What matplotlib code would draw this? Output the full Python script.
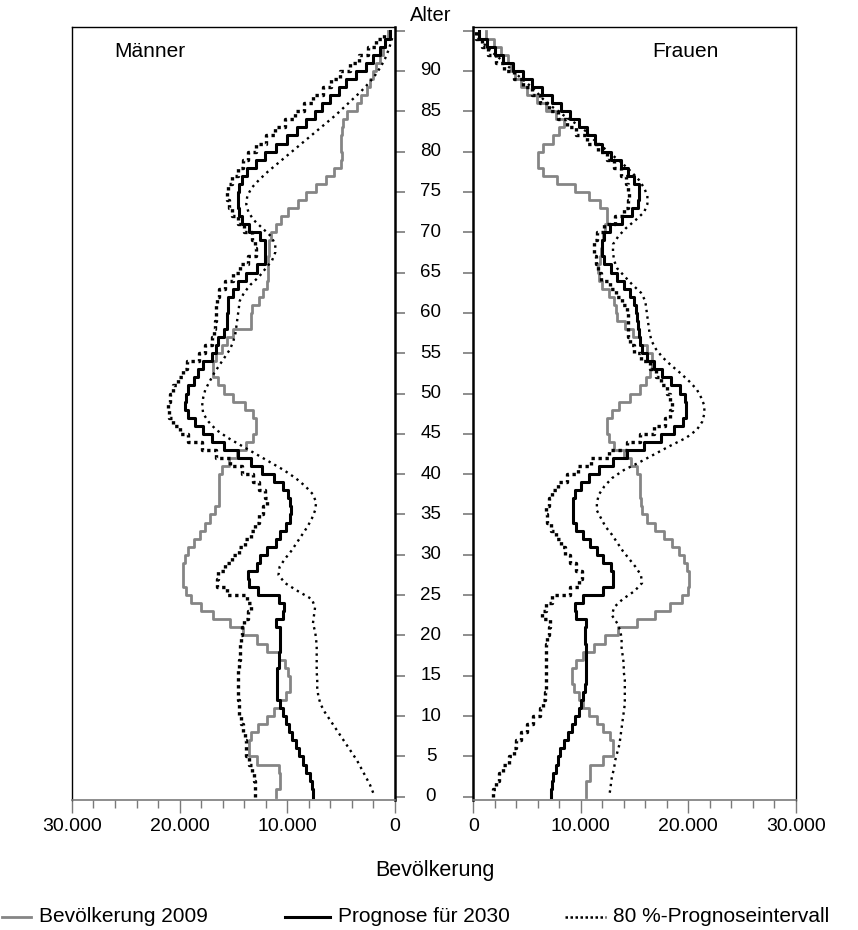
import numpy as np
import matplotlib.pyplot as plt
from matplotlib.lines import Line2D
from matplotlib.ticker import FixedLocator, FuncFormatter, MultipleLocator
from matplotlib.transforms import blended_transform_factory

plt.rcParams['font.family'] = ['Liberation Sans', 'DejaVu Sans']

# Altersjahre 0..94, Bevölkerung in Tausend
ages = np.arange(95)

m_2009 = [11.0, 10.7, 10.7, 10.8, 12.8, 13.5, 13.5, 13.4, 12.7, 11.9,
          11.2, 10.7, 10.1, 9.7, 9.7, 9.9, 10.2, 10.8, 11.9, 12.8,
          14.1, 15.3, 16.9, 18.0, 18.9, 19.4, 19.7, 19.7, 19.7, 19.5,
          19.2, 18.7, 18.1, 17.6, 17.2, 16.7, 16.3, 16.3, 16.3, 16.3,
          16.1, 15.4, 14.7, 13.8, 13.2, 12.9, 12.9, 13.2, 13.9, 15.0,
          15.9, 16.4, 16.9, 16.9, 16.6, 16.1, 15.6, 15.0, 13.4, 13.4,
          13.3, 12.6, 12.2, 11.9, 11.8, 11.8, 11.8, 11.7, 11.7, 11.5,
          11.0, 10.6, 9.9, 9.0, 8.2, 7.3, 6.4, 5.6, 5.0, 4.9,
          4.95, 4.95, 4.9, 4.8, 4.4, 3.5, 3.1, 2.6, 2.3, 2.0,
          1.7, 1.35, 1.1, 0.9, 0.6]
m_2030 = [7.6, 7.7, 7.9, 8.2, 8.5, 8.9, 9.2, 9.5, 9.8, 10.1,
          10.4, 10.7, 10.9, 10.9, 10.9, 10.9, 10.8, 10.8, 10.7, 10.7,
          10.7, 11.0, 10.4, 10.3, 10.8, 12.7, 13.5, 13.6, 12.8, 12.5,
          11.9, 11.0, 10.7, 10.1, 9.75, 9.6, 9.7, 9.9, 10.4, 11.2,
          12.3, 13.4, 14.6, 15.9, 17.0, 17.8, 18.6, 19.2, 19.5, 19.4,
          19.2, 18.7, 18.3, 17.8, 17.0, 16.6, 16.4, 15.9, 15.6, 15.6,
          15.5, 15.5, 15.0, 14.6, 13.8, 12.8, 12.1, 12.1, 12.1, 12.5,
          13.5, 14.2, 14.5, 14.6, 14.6, 14.5, 14.2, 13.7, 12.9, 12.1,
          11.0, 10.0, 9.1, 8.2, 7.4, 6.8, 6.0, 5.2, 4.5, 3.6,
          2.7, 2.0, 1.4, 0.9, 0.4]
m_hi = [13.0, 13.0, 13.1, 13.3, 13.5, 13.8, 13.8, 13.9, 14.1, 14.3,
        14.5, 14.5, 14.6, 14.6, 14.6, 14.6, 14.5, 14.4, 14.4, 14.3,
        14.2, 14.0, 13.6, 13.4, 13.7, 15.6, 16.5, 16.4, 15.8, 15.1,
        14.5, 13.9, 13.4, 13.0, 12.6, 12.2, 11.9, 12.1, 12.6, 13.2,
        14.2, 15.3, 16.6, 17.9, 19.2, 20.0, 20.6, 21.0, 21.1, 20.9,
        20.6, 20.1, 19.7, 19.3, 18.2, 17.6, 17.0, 16.8, 16.7, 16.6,
        16.6, 16.5, 16.3, 15.8, 15.0, 14.4, 13.6, 12.9, 13.0, 13.3,
        14.0, 14.6, 15.1, 15.4, 15.6, 15.5, 15.1, 14.6, 14.1, 13.6,
        12.9, 12.0, 11.1, 10.2, 9.3, 8.4, 7.6, 6.7, 5.9, 5.1,
        4.2, 3.3, 2.5, 1.7, 1.0]
m_lo = [2.0, 2.3, 2.7, 3.1, 3.5, 4.0, 4.5, 5.0, 5.5, 6.0,
        6.5, 6.9, 7.1, 7.2, 7.2, 7.25, 7.25, 7.25, 7.25, 7.3,
        7.4, 7.6, 7.5, 7.4, 7.7, 9.0, 10.2, 10.8, 10.7, 10.2,
        9.6, 9.1, 8.6, 8.1, 7.7, 7.4, 7.3, 7.6, 8.3, 9.2,
        10.3, 11.6, 12.9, 14.2, 15.5, 16.6, 17.3, 17.8, 17.9, 17.8,
        17.6, 17.2, 16.8, 16.3, 15.8, 15.3, 15.0, 14.8, 14.7, 14.6,
        14.5, 14.4, 14.0, 13.4, 12.6, 12.0, 11.4, 11.1, 11.1, 11.5,
        12.3, 13.1, 13.6, 13.8, 13.7, 13.3, 12.6, 11.8, 10.9, 10.0,
        9.1, 8.2, 7.3, 6.4, 5.5, 4.7, 3.9, 3.1, 2.4, 1.8,
        1.3, 0.9, 0.6, 0.35, 0.15]

f_2009 = [10.5, 10.5, 10.9, 10.9, 12.1, 13.0, 13.0, 12.7, 12.1, 11.5,
          10.8, 10.2, 9.8, 9.4, 9.2, 9.2, 9.6, 10.2, 11.2, 12.3,
          13.5, 15.2, 16.9, 18.3, 19.4, 20.0, 20.1, 20.1, 19.9, 19.6,
          19.1, 18.5, 17.7, 16.9, 16.2, 15.7, 15.6, 15.5, 15.5, 15.5,
          15.2, 14.7, 14.0, 13.1, 12.6, 12.4, 12.4, 12.9, 13.6, 14.6,
          15.5, 16.1, 16.4, 16.6, 16.6, 16.2, 15.5, 14.9, 14.1, 13.4,
          13.3, 13.1, 12.6, 12.0, 11.7, 11.6, 11.8, 11.9, 12.0, 12.1,
          12.3, 12.4, 12.4, 11.8, 10.8, 9.5, 7.8, 6.5, 6.0, 6.0,
          6.5, 7.4, 8.0, 8.4, 7.7, 6.8, 5.9, 5.0, 4.4, 3.9,
          3.5, 3.2, 2.6, 1.9, 1.2]
f_2030 = [7.2, 7.3, 7.45, 7.7, 7.9, 8.1, 8.4, 8.8, 9.2, 9.5,
          9.8, 10.0, 10.2, 10.4, 10.5, 10.5, 10.5, 10.5, 10.5, 10.4,
          10.4, 10.5, 9.6, 9.5, 10.2, 12.1, 13.0, 13.0, 12.8, 12.1,
          11.5, 10.9, 10.2, 9.6, 9.3, 9.25, 9.3, 9.5, 10.0, 10.8,
          11.7, 13.0, 14.3, 15.9, 17.5, 18.7, 19.5, 19.8, 19.8, 19.7,
          19.2, 18.4, 17.6, 16.8, 16.2, 15.7, 15.5, 15.4, 15.3, 15.2,
          15.1, 15.0, 14.6, 14.0, 13.4, 12.8, 12.2, 12.0, 12.0, 12.2,
          12.7, 13.8, 14.8, 15.3, 15.4, 15.4, 15.0, 14.4, 13.7, 12.8,
          12.0, 11.3, 10.6, 9.8, 9.0, 8.2, 7.3, 6.4, 5.5, 4.6,
          3.7, 2.8, 2.0, 1.3, 0.5]
f_lo = [1.8, 2.1, 2.4, 2.8, 3.3, 3.8, 4.0, 4.4, 5.0, 5.6,
        6.2, 6.5, 6.7, 6.8, 6.8, 6.8, 6.8, 6.8, 6.8, 6.9,
        7.0, 7.1, 6.4, 6.8, 7.3, 9.0, 9.8, 10.1, 9.6, 9.0,
        8.5, 8.2, 7.7, 7.2, 6.9, 6.8, 7.0, 7.3, 7.9, 8.7,
        9.7, 11.0, 12.6, 14.3, 15.5, 16.8, 17.8, 18.3, 18.5, 18.3,
        18.0, 17.5, 17.0, 16.4, 15.6, 15.0, 14.6, 14.4, 14.4, 14.4,
        14.3, 13.8, 13.3, 12.7, 11.9, 11.6, 11.4, 11.2, 11.2, 11.5,
        12.2, 13.2, 14.0, 14.4, 14.5, 14.4, 14.2, 13.7, 13.1, 12.4,
        11.6, 10.6, 9.6, 8.7, 7.9, 7.0, 6.2, 5.5, 4.6, 3.8,
        2.9, 2.1, 1.4, 0.8, 0.3]
f_hi = [12.7, 12.8, 12.9, 13.1, 13.2, 13.4, 13.6, 13.7, 13.8, 13.9,
        14.0, 14.1, 14.1, 14.1, 14.1, 14.0, 14.0, 13.9, 13.8, 13.8,
        13.7, 13.4, 12.9, 13.1, 13.9, 15.0, 15.7, 15.6, 15.1, 14.5,
        13.9, 13.4, 12.9, 12.3, 11.9, 11.5, 11.5, 11.7, 12.2, 12.9,
        14.0, 15.5, 16.9, 18.3, 19.8, 20.8, 21.3, 21.5, 21.5, 21.2,
        20.8, 20.1, 19.3, 18.4, 17.6, 17.0, 16.6, 16.4, 16.3, 16.2,
        16.1, 16.0, 15.6, 14.8, 14.1, 13.4, 13.1, 13.0, 13.0, 13.5,
        14.2, 15.1, 15.9, 16.2, 16.2, 15.9, 15.4, 14.7, 13.9, 13.0,
        12.1, 11.2, 10.5, 9.5, 8.4, 7.4, 6.5, 5.8, 5.0, 4.1,
        3.3, 2.5, 1.6, 0.9, 0.4]

age_ticks = list(range(0, 96, 5))
x_ticks = [0, 10, 20, 30]

GRAY = '#858585'
TICK_GRAY = '#7a7a7a'


def steps(values):
    # each age covers [a, a+1]
    y = np.repeat(np.arange(len(values) + 1), 2)[1:-1]
    x = np.repeat(values, 2)
    return x, y


def thousands(v, pos):
    return f"{int(round(v * 1000)):,}".replace(",", ".")


def draw_panel(ax, pop09, pop30, heavy, fine):
    ax.plot(*steps(pop09), color=GRAY, lw=2.0, zorder=2)
    ax.plot(*steps(pop30), color='black', lw=2.2, zorder=3)
    ax.plot(*steps(heavy), color='black', lw=2.4, ls=(0, (1.0, 1.1)),
            dash_capstyle='butt', zorder=4)
    ax.plot(fine, ages + 0.5, color='black', lw=1.7, ls=(0, (1.0, 1.8)),
            dash_capstyle='butt', zorder=4)

    ax.set_ylim(-0.4, 95.45)
    ax.set_xlim(0, 30)
    ax.xaxis.set_major_locator(FixedLocator(x_ticks))
    ax.xaxis.set_minor_locator(MultipleLocator(2))
    ax.xaxis.set_major_formatter(FuncFormatter(thousands))
    ax.tick_params(axis='x', which='major', direction='out', length=9,
                   width=1.0, color=TICK_GRAY, labelsize=14, pad=4)
    ax.tick_params(axis='x', which='minor', direction='out', length=5.5,
                   width=1.0, color=TICK_GRAY)
    ax.yaxis.set_major_locator(FixedLocator(age_ticks))
    ax.tick_params(axis='y', direction='out', length=7.5, width=1.2,
                   color=TICK_GRAY, labelleft=False, labelright=False)
    for side in ('top', 'left', 'right'):
        ax.spines[side].set_color('black')
        ax.spines[side].set_linewidth(1.0)
    ax.spines['bottom'].set_color(TICK_GRAY)
    ax.spines['bottom'].set_linewidth(1.2)


fig = plt.figure(figsize=(8.58, 9.30), dpi=100)
ax_m = fig.add_axes([0.0839, 0.1398, 0.3761, 0.8312])
ax_f = fig.add_axes([0.5516, 0.1398, 0.3758, 0.8312])

draw_panel(ax_m, m_2009, m_2030, m_hi, m_lo)
draw_panel(ax_f, f_2009, f_2030, f_lo, f_hi)

ax_m.invert_xaxis()
ax_m.yaxis.tick_right()
ax_m.spines['right'].set_linewidth(1.8)
ax_f.yaxis.tick_left()
ax_f.spines['left'].set_linewidth(1.8)

ax_m.text(0.132, 0.968, 'Männer', transform=ax_m.transAxes, fontsize=15,
          va='center', ha='left')
ax_f.text(0.554, 0.968, 'Frauen', transform=ax_f.transAxes, fontsize=15,
          va='center', ha='left')

# Altersbeschriftung zwischen den beiden Pyramidenhälften
trans = blended_transform_factory(fig.transFigure, ax_m.transData)
for a in age_ticks[:-1]:
    fig.text(0.5023, a, str(a), transform=trans, ha='center', va='center',
             fontsize=13.5)
fig.text(0.5023, 0.983, 'Alter', ha='center', va='center', fontsize=14.5)
fig.text(0.507, 0.0645, 'Bevölkerung', ha='center', va='center', fontsize=15.5)

# Legende unten, über die volle Breite
leg_y = 0.0145
legend_items = [
    (0.002, 0.036, dict(color=GRAY, lw=2.0), 'Bevölkerung 2009'),
    (0.332, 0.385, dict(color='black', lw=2.2), 'Prognose für 2030'),
    (0.658, 0.706, dict(color='black', lw=1.8, ls=(0, (1.0, 1.0)),
                        dash_capstyle='butt'), '80 %-Prognoseintervall'),
]
for x0, x1, style, label in legend_items:
    fig.add_artist(Line2D([x0, x1], [leg_y, leg_y], transform=fig.transFigure,
                          **style))
    fig.text(x1 + 0.009, leg_y, label, ha='left', va='center', fontsize=15)

fig.savefig('out.png', dpi=100)
